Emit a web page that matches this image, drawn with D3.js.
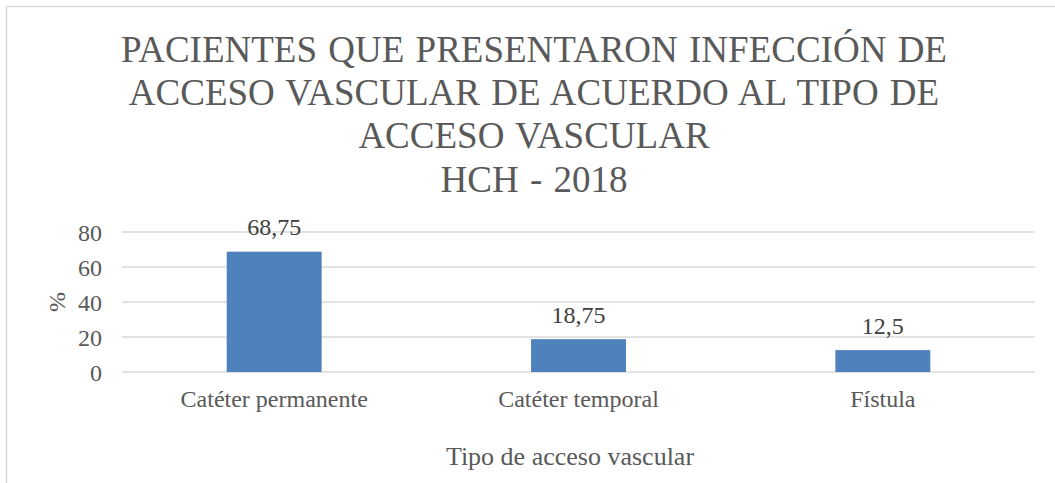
<!DOCTYPE html>
<html>
<head>
<meta charset="utf-8">
<script src="https://cdn.jsdelivr.net/npm/d3@7"></script>
<style>
  body { margin: 0; background: #fff; }
  svg { display: block; }
  svg text { font-family: "Liberation Serif", "Times New Roman", serif; }
</style>
</head>
<body>
<svg id="chart" width="1055" height="483"></svg>
<script>
var categories = ["Catéter permanente", "Catéter temporal", "Fístula"];
var values = [68.75, 18.75, 12.5];
var valueLabels = ["68,75", "18,75", "12,5"];
var yTicks = [0, 20, 40, 60, 80];
var titleLines = [
  "PACIENTES QUE PRESENTARON INFECCIÓN DE",
  "ACCESO VASCULAR DE ACUERDO AL TIPO DE",
  "ACCESO VASCULAR",
  "HCH - 2018"
];

var svg = d3.select("#chart");
var textColor = "#595959";

// chart area border
svg.append("rect")
    .attr("x", 6.5).attr("y", 6.5)
    .attr("width", 1060).attr("height", 500)
    .attr("fill", "#fff")
    .attr("stroke", "#d9d9d9")
    .attr("stroke-width", 1.5);

var plot = { left: 122, right: 1035, top: 232, bottom: 372 };

var x = d3.scaleBand()
    .domain(categories)
    .range([plot.left, plot.right])
    .paddingInner(0.688)
    .paddingOuter(0.344);

var y = d3.scaleLinear()
    .domain([0, 80])
    .range([plot.bottom, plot.top]);

// title
svg.append("text")
    .attr("text-anchor", "middle")
    .style("font-size", "37px")
    .style("word-spacing", "2px")
    .attr("fill", textColor)
    .selectAll("tspan")
    .data(titleLines)
    .enter().append("tspan")
    .attr("x", 534)
    .attr("y", function(d, i) { return 62 + i * 43.2; })
    .text(function(d) { return d; });

// gridlines
svg.append("g")
    .selectAll("line")
    .data(yTicks)
    .enter().append("line")
    .attr("x1", plot.left).attr("x2", plot.right)
    .attr("y1", function(d) { return y(d); })
    .attr("y2", function(d) { return y(d); })
    .attr("stroke", "#d9d9d9")
    .attr("stroke-width", 1.5);

// y axis labels
var yAxis = svg.append("g")
    .attr("transform", "translate(" + (plot.left - 20) + ",0)")
    .call(d3.axisLeft(y).tickValues(yTicks).tickSize(0).tickPadding(0));
yAxis.select(".domain").remove();
yAxis.attr("font-family", null);
yAxis.selectAll("text")
    .style("font-size", "24px")
    .attr("fill", textColor)
    .attr("dy", "0.34em");

// bars
svg.append("g")
    .selectAll("rect")
    .data(values)
    .enter().append("rect")
    .attr("x", function(d, i) { return x(categories[i]); })
    .attr("width", x.bandwidth())
    .attr("y", function(d) { return y(d); })
    .attr("height", function(d) { return y(0) - y(d); })
    .attr("fill", "#4f81bd");

// value labels
svg.append("g")
    .selectAll("text")
    .data(values)
    .enter().append("text")
    .attr("x", function(d, i) { return x(categories[i]) + x.bandwidth() / 2; })
    .attr("y", function(d) { return y(d) - 16.5; })
    .attr("text-anchor", "middle")
    .style("font-size", "24px")
    .attr("fill", "#404040")
    .text(function(d, i) { return valueLabels[i]; });

// x axis labels
var xAxis = svg.append("g")
    .attr("transform", "translate(0," + plot.bottom + ")")
    .call(d3.axisBottom(x).tickSize(0).tickPadding(0));
xAxis.select(".domain").remove();
xAxis.attr("font-family", null);
xAxis.selectAll("text")
    .style("font-size", "24px")
    .attr("fill", textColor)
    .attr("dy", 35);

// axis titles
svg.append("text")
    .attr("x", 570).attr("y", 465)
    .attr("text-anchor", "middle")
    .style("font-size", "26px")
    .attr("fill", textColor)
    .text("Tipo de acceso vascular");

svg.append("text")
    .attr("transform", "translate(65," + y(40) + ") rotate(-90)")
    .attr("text-anchor", "middle")
    .style("font-size", "24px")
    .attr("fill", textColor)
    .text("%");
</script>
</body>
</html>
